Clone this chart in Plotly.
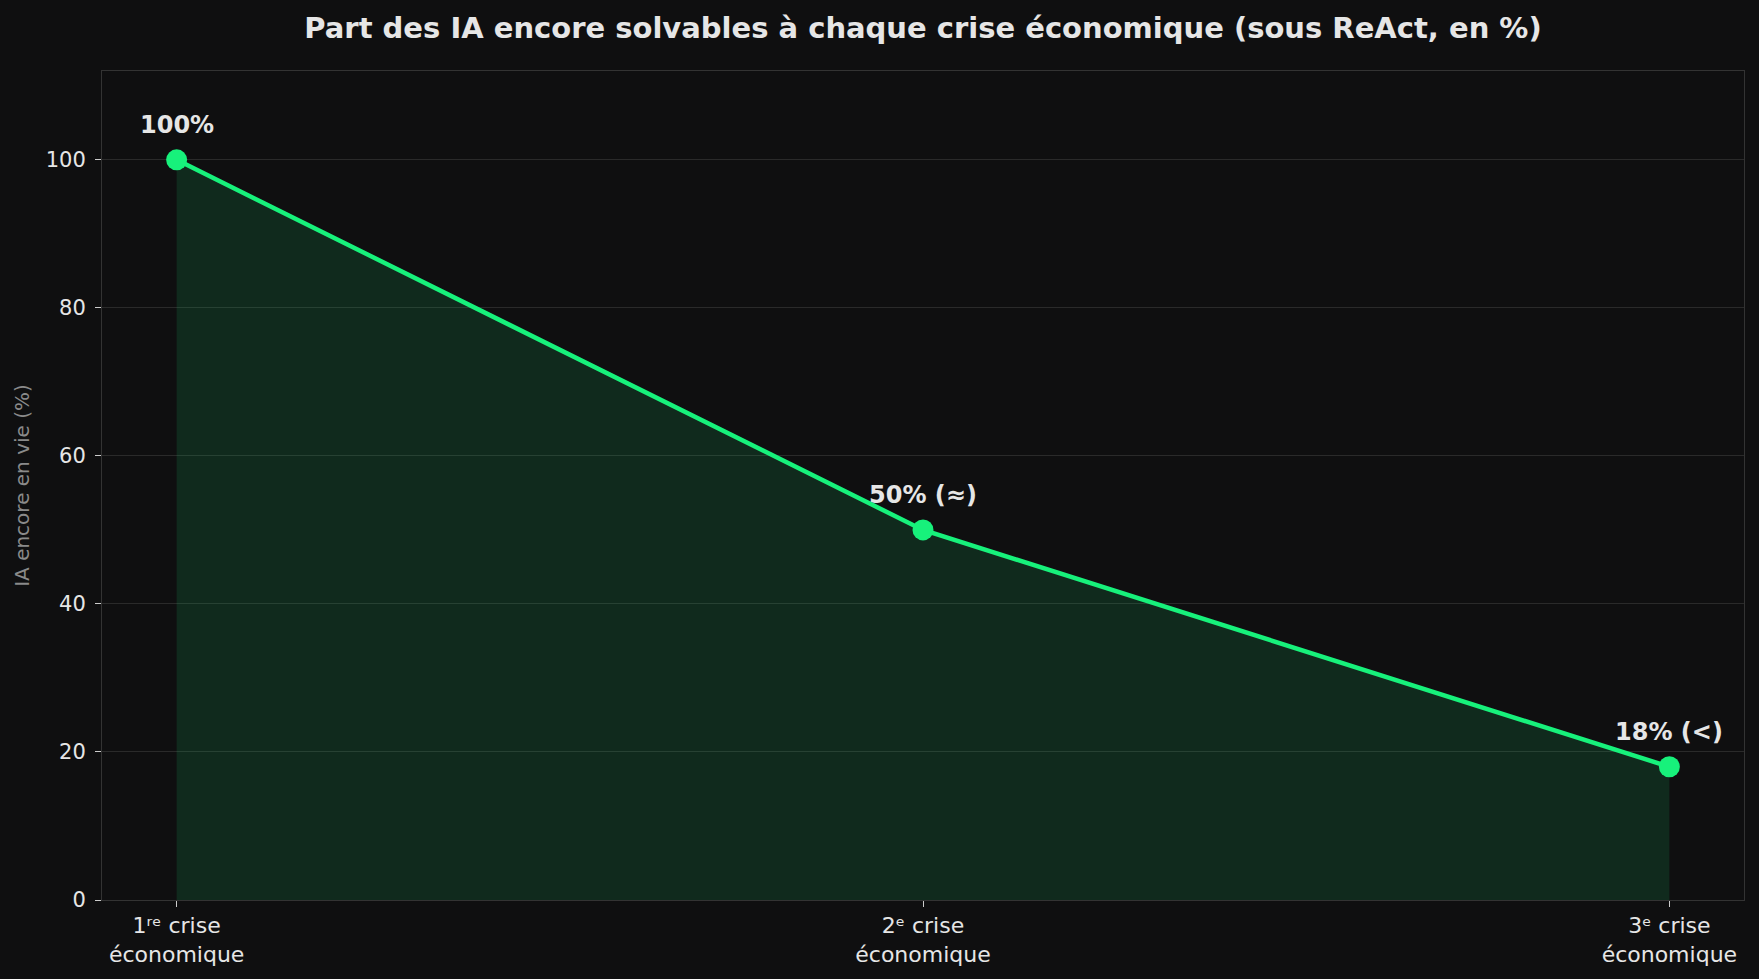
import plotly.graph_objects as go

# data
crises = [0, 1, 2]
crise_labels = ["1ʳᵉ crise<br>économique", "2ᵉ crise<br>économique", "3ᵉ crise<br>économique"]
pct_alive = [100, 50, 18]
point_labels = ["100%", "50% (≈)", "18% (<)"]
y_ticks = [0, 20, 40, 60, 80, 100]

BG = "#0f0f10"
GREEN = "#17f17b"
FONT = "DejaVu Sans"

fig = go.Figure()
fig.add_trace(
    go.Scatter(
        x=crises,
        y=pct_alive,
        mode="lines+markers",
        line={"color": GREEN, "width": 4.5},
        marker={"color": GREEN, "size": 21},
        fill="tozeroy",
        fillcolor="rgba(23,241,123,0.12)",
        hoverinfo="skip",
        showlegend=False,
    )
)

# value labels above each point
for x, y, txt in zip(crises, pct_alive, point_labels):
    fig.add_annotation(
        x=x, y=y, text=f"<b>{txt}</b>", showarrow=False, yshift=35,
        font={"family": FONT, "size": 24, "color": "#e6e6e6"},
    )

fig.update_layout(
    width=1759,
    height=979,
    paper_bgcolor=BG,
    plot_bgcolor=BG,
    margin={"l": 102, "r": 15, "t": 71, "b": 79},
    font={"family": FONT, "color": "#e0e0e0", "size": 21},
    title={
        "text": "<b>Part des IA encore solvables à chaque crise économique (sous ReAct, en %)</b>",
        "x": 0.5,
        "xref": "paper",
        "xanchor": "center",
        "y": 0.972,
        "yanchor": "middle",
        "font": {"family": FONT, "size": 29, "color": "#e6e6e6"},
    },
)
fig.update_xaxes(
    range=[-0.1, 2.1],
    tickvals=crises,
    ticktext=crise_labels,
    showgrid=False,
    zeroline=False,
    showline=True,
    mirror=True,
    linecolor="#333333",
    linewidth=1,
    ticks="outside",
    ticklen=6,
    tickcolor="#cccccc",
    tickfont={"family": FONT, "size": 22, "color": "#e6e6e6"},
)
fig.update_yaxes(
    range=[0, 112],
    tickvals=y_ticks,
    showgrid=True,
    gridcolor="#2a2a2a",
    gridwidth=1,
    zeroline=False,
    showline=True,
    mirror=True,
    linecolor="#333333",
    linewidth=1,
    ticks="outside",
    ticklen=6,
    tickcolor="#cccccc",
    ticklabelstandoff=5,
    tickfont={"family": FONT, "size": 21, "color": "#e6e6e6"},
    title={"text": "IA encore en vie (%)", "font": {"family": FONT, "size": 20, "color": "#8a8a8a"}, "standoff": 10},
)

# drop the default page margin so the figure sits flush in the window
fig.write_html(
    "out.html",
    config={"displayModeBar": False},
    post_script="document.body.style.margin='0';document.body.style.background='#0f0f10';",
)
